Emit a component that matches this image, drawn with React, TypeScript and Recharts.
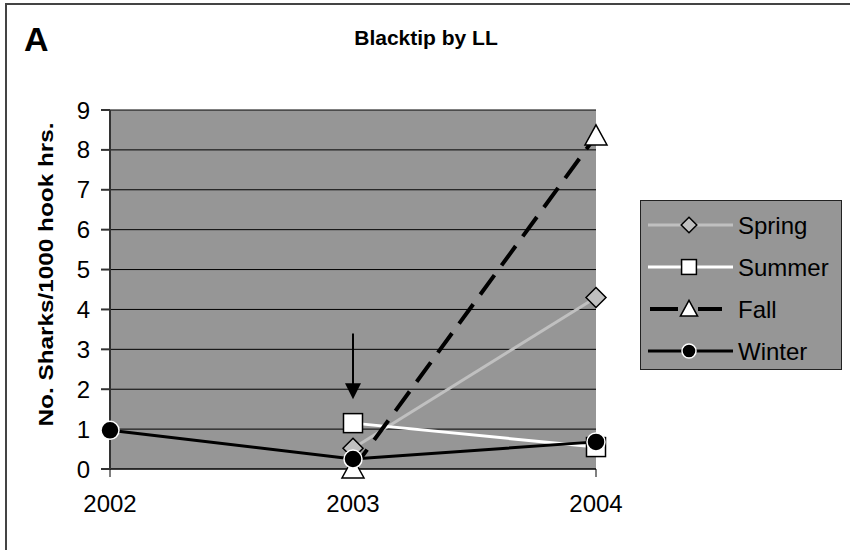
import React from 'react'
import {
  LineChart,
  Line,
  XAxis,
  YAxis,
  CartesianGrid,
  Legend,
  ReferenceLine,
} from 'recharts'

const years = ['2002', '2003', '2004']
const spring = [null, 0.52, 4.3]
const summer = [null, 1.15, 0.55]
const fall = [null, 0, 8.35]
const winter = [0.97, 0.25, 0.68]
const yTicks = [0, 1, 2, 3, 4, 5, 6, 7, 8, 9]

// arrow annotation at 2003
const arrowYear = '2003'
const arrowFrom = 3.4
const arrowTo = 1.75

const data = years.map((year, i) => ({
  year,
  spring: spring[i],
  summer: summer[i],
  fall: fall[i],
  winter: winter[i],
}))

const FONT = 'Arial, "Liberation Sans", sans-serif'
const PLOT_BG = '#969696'

type Marker = 'diamond' | 'square' | 'triangle' | 'circle'

// s = scale, 1 on the plot, smaller in the legend
function markerShape(kind: Marker, cx: number, cy: number, s = 1, key?: string) {
  if (kind === 'diamond') {
    const d = 10 * s
    return (
      <polygon
        key={key}
        points={`${cx},${cy - d} ${cx + d},${cy} ${cx},${cy + d} ${cx - d},${cy}`}
        fill="#c0c0c0"
        stroke="#000"
        strokeWidth={1.5}
      />
    )
  }
  if (kind === 'square') {
    const h = 9.5 * s
    return (
      <rect key={key} x={cx - h} y={cy - h} width={2 * h} height={2 * h} fill="#fff" stroke="#000" strokeWidth={1.5} />
    )
  }
  if (kind === 'triangle') {
    const w = 11 * s
    return (
      <polygon
        key={key}
        points={`${cx},${cy - w} ${cx + w},${cy + 9 * s} ${cx - w},${cy + 9 * s}`}
        fill="#fff"
        stroke="#000"
        strokeWidth={1.5}
      />
    )
  }
  return <circle key={key} cx={cx} cy={cy} r={9 * s} fill="#000" stroke="#fff" strokeWidth={1.5} />
}

const series: { key: string; name: string; color: string; width: number; dash?: string; marker: Marker }[] = [
  { key: 'spring', name: 'Spring', color: '#c0c0c0', width: 3, marker: 'diamond' },
  { key: 'summer', name: 'Summer', color: '#ffffff', width: 3, marker: 'square' },
  { key: 'fall', name: 'Fall', color: '#000000', width: 4, dash: '24 12', marker: 'triangle' },
  { key: 'winter', name: 'Winter', color: '#000000', width: 3, marker: 'circle' },
]

function makeDot(kind: Marker) {
  return (props: any) => {
    const { cx, cy, value, index, dataKey } = props
    const k = `${dataKey}-${index}`
    if (value == null || cx == null || cy == null) return <g key={k} />
    return markerShape(kind, cx, cy, 1, k)
  }
}

function Arrow(props: any) {
  const { x1, y1, x2, y2 } = props
  return (
    <g>
      <line x1={x1} y1={y1} x2={x2} y2={y2 - 14} stroke="#000" strokeWidth={2} />
      <polygon points={`${x2 - 8},${y2 - 16} ${x2 + 8},${y2 - 16} ${x2},${y2}`} fill="#000" />
    </g>
  )
}

function YLabel(props: any) {
  const vb = props.viewBox || { x: 10, y: 110, width: 100, height: 359 }
  const x = vb.x + 36
  const y = vb.y + vb.height / 2 - 15
  return (
    <text
      x={x}
      y={y}
      transform={`rotate(-90 ${x} ${y})`}
      textAnchor="middle"
      dominantBaseline="central"
      fontFamily={FONT}
      fontWeight="bold"
      fontSize={20}
      textLength={304}
      lengthAdjust="spacingAndGlyphs"
      fill="#000"
    >
      No. Sharks/1000 hook hrs.
    </text>
  )
}

function LegendBox() {
  return (
    <svg width={202} height={171} style={{ display: 'block' }}>
      <rect x={0.5} y={0.5} width={201} height={169} fill={PLOT_BG} stroke="#222" />
      {series.map((s, i) => {
        const cy = 25 + i * 42
        return (
          <g key={s.key}>
            {s.dash ? (
              <>
                <line x1={10} y1={cy} x2={38} y2={cy} stroke={s.color} strokeWidth={s.width} />
                <line x1={58} y1={cy} x2={82} y2={cy} stroke={s.color} strokeWidth={s.width} />
              </>
            ) : (
              <line x1={8} y1={cy} x2={93} y2={cy} stroke={s.color} strokeWidth={s.width} />
            )}
            {markerShape(s.marker, 49, cy, 0.78)}
            <text x={98} y={cy} dominantBaseline="central" fontFamily={FONT} fontSize={24} fill="#000">
              {s.name}
            </text>
          </g>
        )
      })}
    </svg>
  )
}

export default function App() {
  return (
    <div style={{ position: 'absolute', left: 0, top: 0, width: 850, height: 550, background: '#fff' }}>
      <div
        style={{
          position: 'absolute',
          left: 5,
          top: 3,
          right: 0,
          bottom: 0,
          borderLeft: '2px solid #444',
          borderTop: '2px solid #444',
        }}
      />
      <div
        style={{
          position: 'absolute',
          left: 24,
          top: 22,
          fontFamily: FONT,
          fontWeight: 'bold',
          fontSize: 34,
          lineHeight: 1,
        }}
      >
        A
      </div>
      <div
        style={{
          position: 'absolute',
          left: 0,
          width: 852,
          top: 27,
          textAlign: 'center',
          fontFamily: FONT,
          fontWeight: 'bold',
          fontSize: 21,
          lineHeight: 1,
        }}
      >
        Blacktip by LL
      </div>
      <LineChart
        width={850}
        height={550}
        data={data}
        margin={{ top: 110, right: 254, bottom: 41, left: 10 }}
        style={{ fontFamily: FONT }}
      >
        <CartesianGrid vertical={false} stroke="#000" strokeOpacity={1} fill={PLOT_BG} fillOpacity={1} />
        <XAxis
          dataKey="year"
          scale="point"
          padding={{ left: 0, right: 0 }}
          height={40}
          tickSize={8}
          tickMargin={18}
          stroke="#000"
          tick={{ fontSize: 24, fill: '#000' }}
        />
        <YAxis
          domain={[0, 9]}
          ticks={yTicks}
          width={100}
          tickSize={9}
          tickMargin={11}
          stroke="#333"
          strokeWidth={2}
          tick={{ fontSize: 24, fill: '#000', stroke: 'none' }}
          label={<YLabel />}
        />
        {series.map((s) => (
          <Line
            key={s.key}
            dataKey={s.key}
            name={s.name}
            stroke={s.color}
            strokeWidth={s.width}
            strokeDasharray={s.dash}
            dot={makeDot(s.marker)}
            activeDot={false}
            isAnimationActive={false}
          />
        ))}
        <ReferenceLine
          segment={[
            { x: arrowYear, y: arrowFrom },
            { x: arrowYear, y: arrowTo },
          ]}
          shape={Arrow}
        />
        <Legend
          layout="vertical"
          align="center"
          verticalAlign="middle"
          content={() => <LegendBox />}
          wrapperStyle={{ left: 640, top: 200, width: 202, height: 171 }}
        />
      </LineChart>
    </div>
  )
}
